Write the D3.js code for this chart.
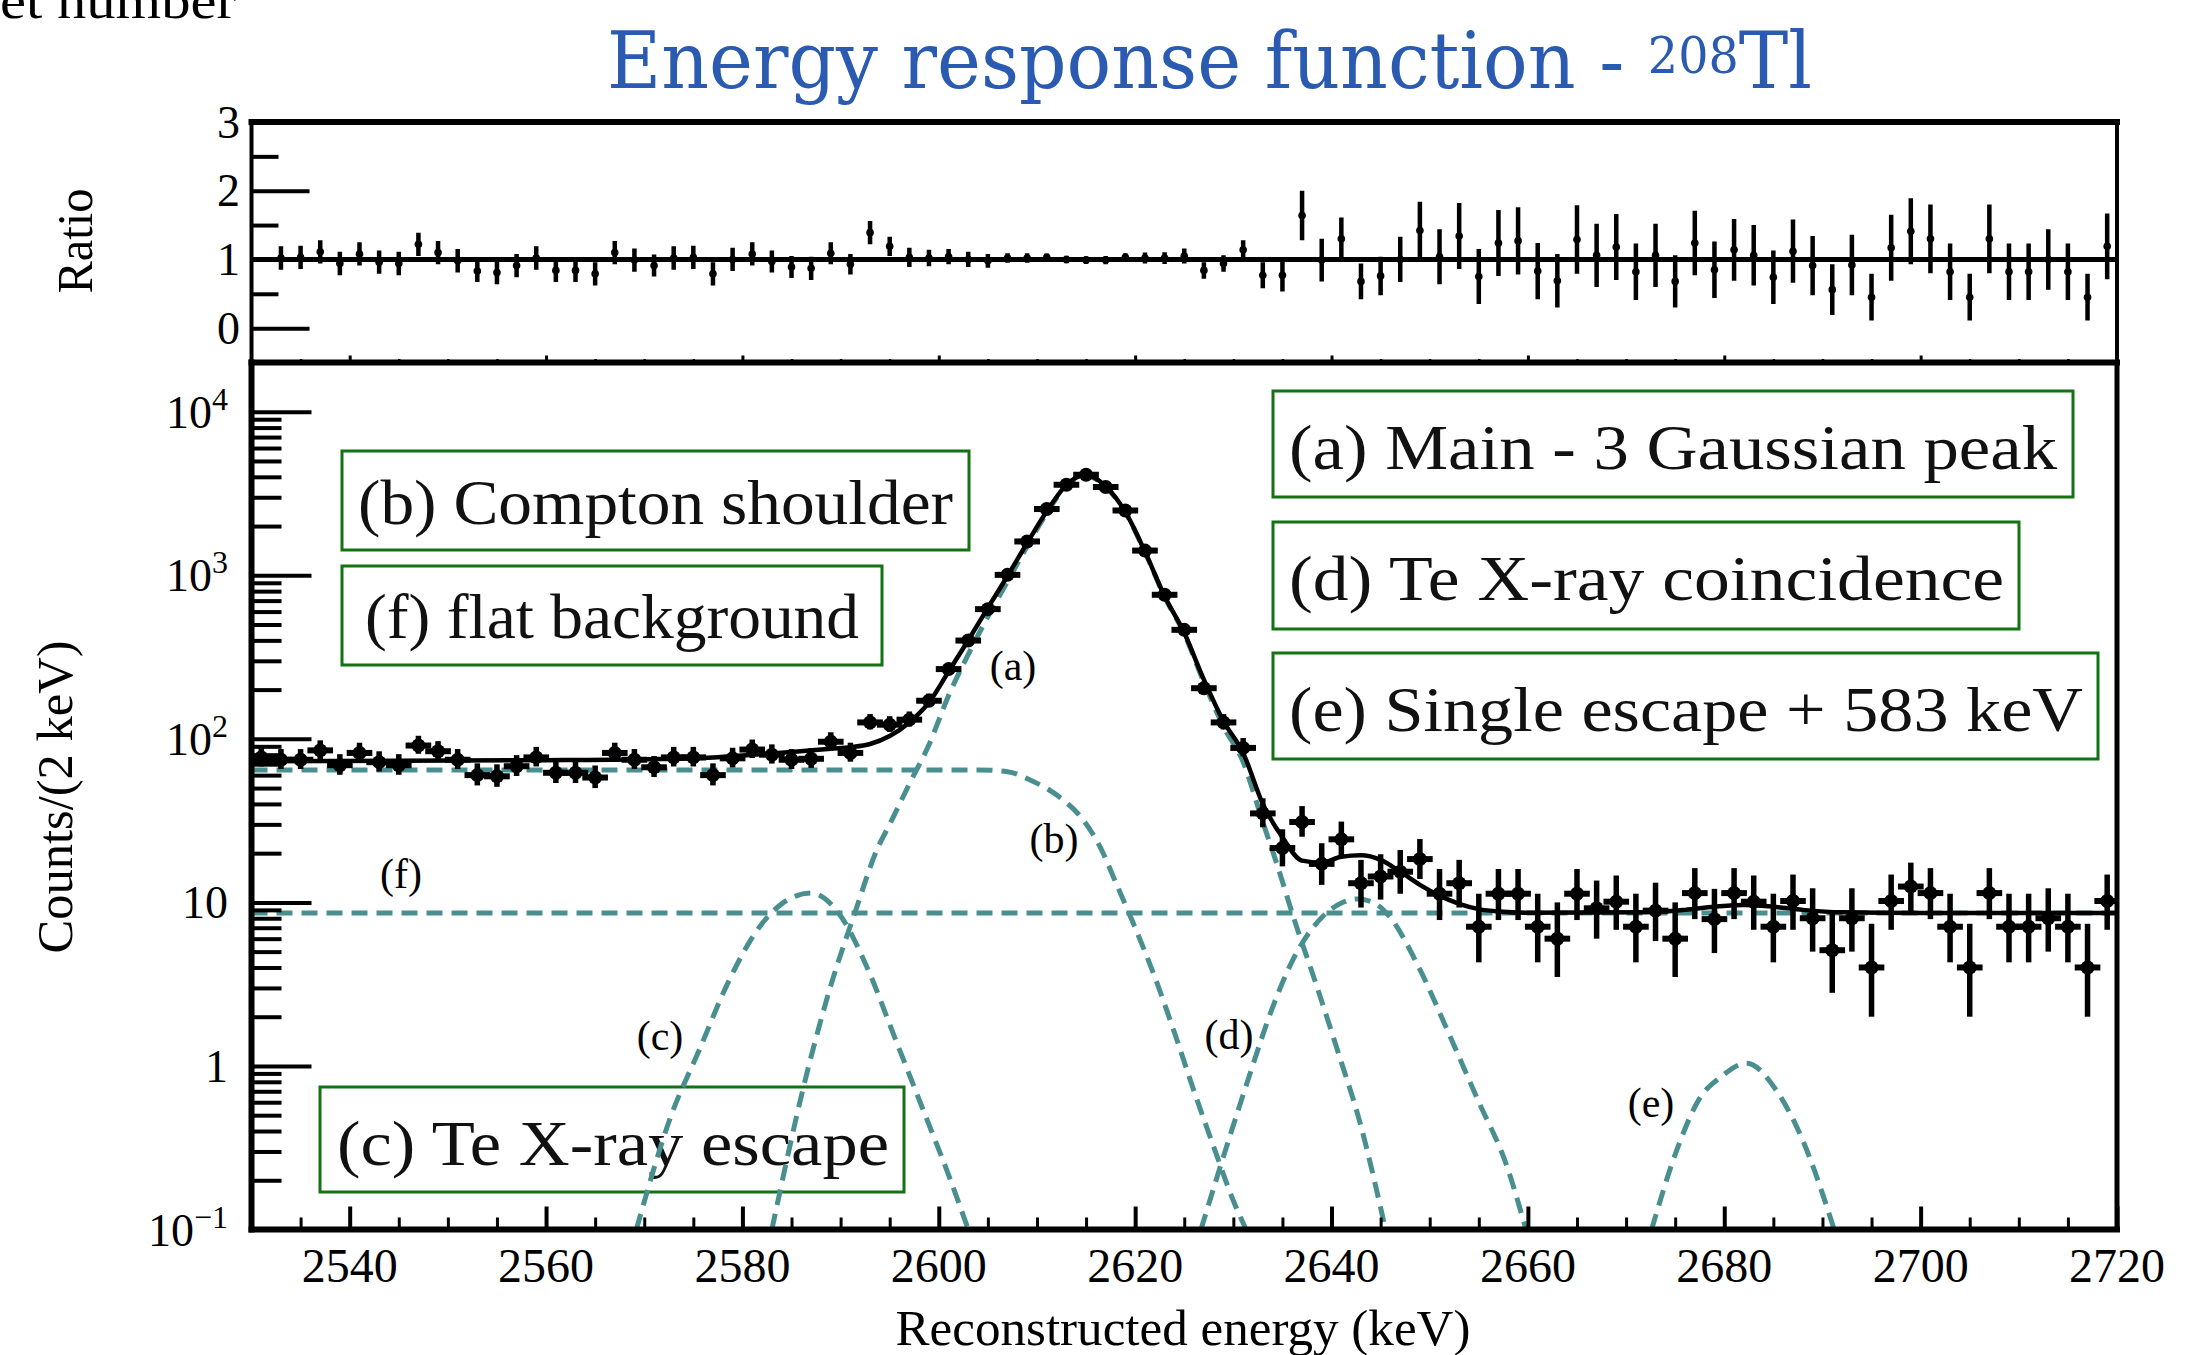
<!DOCTYPE html>
<html>
<head>
<meta charset="utf-8">
<script src="https://cdn.jsdelivr.net/npm/d3@7"></script>
<style>
  body { margin: 0; background: #fff; }
</style>
</head>
<body>
<div id="chart"></div>
<script>
// ---- values ----
// bin centres, 2 keV bins from 2530 to 2720
var binCentres = d3.range(2531, 2720, 2);

var counts = [77,74.5,74.5,85,69,82,72,69,91,84,74.5,60,59,68,77,62,62,58,82,74.5,
  67,77,77,60,76,86,80,74.5,75.5,96,82,126,
  122,131,171,267,399,621,1006,1610,2541,3575,4118,3467,2490,1416,760,464,204,126,88,35,
  21.5,31,17.2,24.3,13.1,14.4,15.4,18.4,11.3,13.1,7.1,11.3,11.3,7.1,6.0,11.3,9.2,10.1,7.1,8.9,
  6.0,11.4,7.9,11.4,10.1,7.1,10.2,8.0,5.1,8.0,4.0,10.2,12.5,11.4,7.1,4.0,11.4,7.1,7.1,8.0,
  7.1,4.0,10.2];

var countErrUp = [12.3,12.1,12.1,12.9,11.6,12.7,11.9,11.6,13.4,12.8,12.1,10.8,10.8,11.5,12.3,11.0,11.0,10.7,12.7,12.1,
  11.5,12.3,12.3,10.8,12.2,13.0,12.5,12.1,12.2,13.7,12.7,15.7,
  15.5,16,18.3,22.9,28,35,44,56,71,84,90,82,70,53,39,30,20,15.7,13.1,8.3,
  6.5,7.8,5.8,6.9,5.1,5.3,5.5,6.0,4.7,5.1,4.2,4.7,4.7,4.2,4.0,4.7,4.4,4.5,4.2,4.3,
  4.0,4.8,4.2,4.8,4.5,4.2,4.6,4.2,3.6,4.2,3.4,4.6,5.0,4.8,4.2,3.4,4.8,4.2,4.2,4.2,
  4.2,3.4,4.6];

var countErrDown = [9.2,9.1,9.1,9.7,8.7,9.5,8.9,8.7,10.0,9.6,9.1,8.1,8.1,8.7,9.2,8.3,8.3,8.0,9.5,9.1,
  8.6,9.2,9.2,8.1,9.2,9.7,9.4,9.1,9.1,10.3,9.5,11.8,
  11.6,12,13.7,17.2,21,26,33,42,53,63,67,62,52,40,29,23,15,11.8,9.9,6.2,
  4.9,5.8,4.4,5.2,3.8,4.0,4.1,4.5,3.5,3.8,2.8,3.5,3.5,2.8,2.5,3.5,3.2,3.3,2.8,3.1,
  2.5,3.5,3.0,3.5,3.3,2.8,3.4,3.0,2.3,3.0,2.0,3.4,3.7,3.5,2.8,2.0,3.5,2.8,2.8,3.0,
  2.8,2.0,3.4];

var ratio = [null,1.02,1.03,1.11,0.94,1.08,0.96,0.94,1.22,1.10,
  0.98,0.83,0.81,0.91,1.02,0.84,0.84,0.79,1.10,0.99,
  0.91,1.02,1.03,0.79,1.00,1.08,0.97,0.89,0.87,1.09,
  0.93,1.39,1.19,1.03,1.02,1.04,1.00,0.98,1.02,1.02,
  1.03,1.00,0.99,0.99,1.03,1.02,1.02,1.05,0.84,0.94,
  1.14,0.77,0.77,1.64,0.99,1.30,0.68,0.76,1.00,1.42,
  1.04,1.34,0.75,1.24,1.27,0.83,0.69,1.29,1.06,1.18,
  0.82,1.06,0.68,1.24,0.85,1.14,1.06,0.74,1.12,0.91,
  0.56,0.92,0.45,1.17,1.41,1.30,0.82,0.45,1.30,0.82,
  0.82,1.00,0.82,0.45,1.19];

var ratioErr = [null,.17,.17,.17,.17,.17,.17,.17,.17,.17,
  .17,.16,.17,.17,.17,.17,.17,.17,.17,.17,
  .16,.17,.17,.17,.17,.17,.16,.16,.17,.16,
  .15,.17,.14,.14,.12,.11,.11,.10,.07,.07,
  .055,.055,.055,.06,.06,.08,.085,.11,.12,.12,
  .14,.19,.235,.36,.31,.31,.26,.28,.33,.42,
  .40,.48,.40,.48,.49,.41,.39,.50,.46,.48,
  .41,.46,.38,.47,.41,.45,.44,.39,.46,.43,
  .37,.44,.34,.48,.48,.50,.41,.34,.50,.41,
  .41,.44,.41,.34,.48];

// model curves: [energy (keV), counts/(2 keV)]
var fitCurve = [[2530,73],[2545,73.5],[2560,74],[2570,75],[2577,77],[2581,80],[2585,83],[2589,87],
  [2591,89],[2593,93],[2595,104],[2597,126],[2599,167],[2601,258],[2603,401],[2605,632],[2607,990],
  [2609,1575],[2611,2460],[2613,3575],[2615,4100],[2617,3500],[2619,2440],[2621,1395],[2623,745],
  [2625,445],[2627,230],[2629,128],[2631,82],[2633,40],[2635,25],[2637,18],[2639,17.5],[2641,19],
  [2643,19.4],[2645,18.2],[2647,15.4],[2649,12.8],[2651,11],[2653,9.8],[2655,9.1],[2657,8.8],
  [2660,8.65],[2672,8.7],[2676,9.0],[2679,9.4],[2682,9.65],[2685,9.4],[2688,9.0],[2692,8.7],
  [2700,8.6],[2720,8.6]];

var compA = [[2583,0.1],[2586.5,0.87],[2589,3.1],[2591.5,8.8],[2593.7,21],[2595,30],[2597,53],[2599,92],
  [2601,184],[2603,328],[2605,559],[2607,917],[2609,1505],[2611,2400],[2613,3520],[2615,4050],
  [2617,3470],[2619,2420],[2621,1385],[2623,738],[2625,438],[2627,221],[2629,119],[2631,72],
  [2633,31],[2634.6,16],[2636.1,8.2],[2638.4,3.2],[2640.6,1.25],[2642.9,0.45],[2645.5,0.1]];
var compB = [[2530,64.6],[2604,64.6],[2607,63],[2609.3,56],[2612.3,44],[2614.7,32],[2616.4,22],
  [2618.2,12.5],[2620,7],[2622,3.5],[2624,1.6],[2626,0.7],[2628,0.32],[2630,0.15],[2631.3,0.1]];
var compC = [[2569.2,0.1],[2572.7,0.49],[2575.6,1.25],[2578.5,3.2],[2581.3,6.5],[2584.1,9.9],[2587,11.4],
  [2589.8,8.6],[2592.7,4.0],[2595.5,1.5],[2598.4,0.54],[2601.2,0.2],[2603,0.1]];
var compD = [[2626.7,0.1],[2629.3,0.32],[2631.6,0.86],[2633.9,2.2],[2636.1,4.5],[2639.1,8.2],[2641,9.9],
  [2642.7,10.5],[2644.5,9.8],[2645.9,8.2],[2648.9,4.0],[2651.9,1.6],[2654.9,0.62],[2657.9,0.24],[2659.8,0.1]];
var compE = [[2672.6,0.1],[2675.2,0.31],[2677.4,0.62],[2679.7,0.86],[2682.3,1.04],[2685.3,0.71],[2688,0.35],[2691.2,0.1]];
var compF = [[2530,8.6],[2720,8.6]];

var xMajor = [2540,2560,2580,2600,2620,2640,2660,2680,2700,2720];
var yMajor = [0.1,1,10,100,1000,10000];
var yMajorLabels = [["10","\u22121"],["1",""],["10",""],["10","2"],["10","3"],["10","4"]];
var ratioMajor = [0,1,2,3];
var ratioMinor = [0.5,1.5,2.5];

var legendTexts = ["(a) Main - 3 Gaussian peak","(b) Compton shoulder","(c) Te X-ray escape",
  "(d) Te X-ray coincidence","(e) Single escape + 583 keV","(f) flat background"];
var curveLabels = ["(a)","(b)","(c)","(d)","(e)","(f)"];

// ---- layout ----
var W = 2203, H = 1355;
var L = 251.5, R = 2117;
var rTop = 122, rBot = 362.5, mTop = 362.5, mBot = 1229.5;
var dashCol = "#4a8f8f", boxCol = "#137313", titleCol = "#2a5bb0";

var boxLayout = [
  {x0:1273, x1:2073, y0:391, y1:497, tx:1289, ty:469, tw:768},
  {x0:342, x1:969, y0:451, y1:550, tx:358, ty:524, tw:595},
  {x0:320, x1:904, y0:1087, y1:1192, tx:337, ty:1165, tw:552},
  {x0:1273, x1:2019, y0:522, y1:629, tx:1289, ty:600, tw:715},
  {x0:1273, x1:2098, y0:653, y1:759, tx:1289, ty:731, tw:794},
  {x0:342, x1:882, y0:566, y1:665, tx:365, ty:638, tw:494}
];
var labelPos = [[1013,680],[1054,853],[660,1050],[1229,1049],[1651,1117],[401,888]];

var svg = d3.select("#chart").append("svg")
  .attr("width", W).attr("height", H)
  .style("font-family", "'Liberation Serif','Times New Roman',serif");

var x = d3.scaleLinear().domain([2530,2720]).range([L,R]);
var yR = d3.scaleLinear().domain([-0.5,3]).range([rBot,rTop]);
var y = d3.scaleLog().domain([0.1,2e4]).range([mBot,mTop]);

var defs = svg.append("defs");
defs.append("clipPath").attr("id","clipMain").append("rect")
  .attr("x",L).attr("y",mTop).attr("width",R-L).attr("height",mBot-mTop);
defs.append("clipPath").attr("id","clipRatio").append("rect")
  .attr("x",L).attr("y",rTop).attr("width",R-L).attr("height",rBot-rTop);

// ---- title and stray header (cut at the top edge in the original) ----
svg.append("text")
  .attr("x",0).attr("y",18)
  .attr("font-size",50)
  .attr("textLength",236).attr("lengthAdjust","spacingAndGlyphs")
  .text("et number");

var title = svg.append("text")
  .attr("x",607).attr("y",88)
  .attr("fill",titleCol)
  .style("font-family","'DejaVu Serif',serif")
  .attr("font-size",78)
  .attr("textLength",1205).attr("lengthAdjust","spacingAndGlyphs");
title.append("tspan").text("Energy response function - ");
title.append("tspan").attr("dy",-15).attr("font-size",50).text("208");
title.append("tspan").attr("dy",15).text("Tl");

// ---- points ----
var pts = binCentres.map(function(e,i){
  return {e:e, n:counts[i], up:countErrUp[i], dn:countErrDown[i], r:ratio[i], re:ratioErr[i]};
});

// ---- ratio panel ----
var gR = svg.append("g").attr("clip-path","url(#clipRatio)");
gR.append("line")
  .attr("x1",L).attr("x2",R)
  .attr("y1",yR(1)).attr("y2",yR(1))
  .attr("stroke","#000").attr("stroke-width",5);
var rp = pts.filter(function(d){ return d.r != null; });
gR.selectAll("line.rv").data(rp).join("line")
  .attr("class","rv")
  .attr("x1",function(d){ return x(d.e); }).attr("x2",function(d){ return x(d.e); })
  .attr("y1",function(d){ return yR(d.r - d.re); })
  .attr("y2",function(d){ return yR(d.r + d.re); })
  .attr("stroke","#000").attr("stroke-width",4.5);
gR.selectAll("circle").data(rp).join("circle")
  .attr("cx",function(d){ return x(d.e); })
  .attr("cy",function(d){ return yR(d.r); })
  .attr("r",3.8).attr("fill","#000");

// ---- main panel: legend boxes ----
boxLayout.forEach(function(b,i){
  svg.append("rect")
    .attr("x",b.x0).attr("y",b.y0)
    .attr("width",b.x1-b.x0).attr("height",b.y1-b.y0)
    .attr("fill","none").attr("stroke",boxCol).attr("stroke-width",3);
  svg.append("text")
    .attr("x",b.tx).attr("y",b.ty)
    .attr("font-size",64)
    .attr("fill","#111")
    .attr("textLength",b.tw).attr("lengthAdjust","spacingAndGlyphs")
    .text(legendTexts[i]);
});

curveLabels.forEach(function(t,i){
  svg.append("text")
    .attr("x",labelPos[i][0]).attr("y",labelPos[i][1])
    .attr("text-anchor","middle")
    .attr("font-size",42)
    .text(t);
});

// ---- main panel: curves and data ----
var gM = svg.append("g").attr("clip-path","url(#clipMain)");
var line = d3.line()
  .x(function(d){ return x(d[0]); })
  .y(function(d){ return y(d[1]); })
  .curve(d3.curveMonotoneX);

[compF, compB, compC, compA, compD, compE].forEach(function(c){
  gM.append("path")
    .attr("d", line(c))
    .attr("fill","none")
    .attr("stroke",dashCol)
    .attr("stroke-width",5)
    .attr("stroke-dasharray","16,9");
});

gM.append("path")
  .attr("d", line(fitCurve))
  .attr("fill","none")
  .attr("stroke","#000")
  .attr("stroke-width",4.5);

gM.selectAll("line.h").data(pts).join("line")
  .attr("class","h")
  .attr("x1",function(d){ return x(d.e-1); }).attr("x2",function(d){ return x(d.e+1); })
  .attr("y1",function(d){ return y(d.n); }).attr("y2",function(d){ return y(d.n); })
  .attr("stroke","#000").attr("stroke-width",6).attr("stroke-linecap","square");
gM.selectAll("line.v").data(pts).join("line")
  .attr("class","v")
  .attr("x1",function(d){ return x(d.e); }).attr("x2",function(d){ return x(d.e); })
  .attr("y1",function(d){ return y(d.n - d.dn); })
  .attr("y2",function(d){ return y(d.n + d.up); })
  .attr("stroke","#000").attr("stroke-width",5.5);
gM.selectAll("circle").data(pts).join("circle")
  .attr("cx",function(d){ return x(d.e); })
  .attr("cy",function(d){ return y(d.n); })
  .attr("r",7).attr("fill","#000");

// ---- axes ----
function styleTicks(g, w){
  g.select(".domain").remove();
  g.selectAll("line").attr("stroke","#000").attr("stroke-width",w);
}
var xMinor = d3.range(2535,2720,5).filter(function(v){ return v % 20 !== 0; });
var yMinor = [];
[0.1,1,10,100,1000].forEach(function(dec){
  d3.range(2,10).forEach(function(k){ yMinor.push(dec*k); });
});

// main y
svg.append("g").attr("transform","translate("+L+",0)")
  .call(d3.axisLeft(y).tickValues(yMajor).tickSize(-60).tickFormat(""))
  .call(styleTicks, 4);
svg.append("g").attr("transform","translate("+L+",0)")
  .call(d3.axisLeft(y).tickValues(yMinor).tickSize(-30).tickFormat(""))
  .call(styleTicks, 4);
// main x
svg.append("g").attr("transform","translate(0,"+mBot+")")
  .call(d3.axisBottom(x).tickValues(xMajor).tickSize(-23).tickFormat(""))
  .call(styleTicks, 4);
svg.append("g").attr("transform","translate(0,"+mBot+")")
  .call(d3.axisBottom(x).tickValues(xMinor).tickSize(-12).tickFormat(""))
  .call(styleTicks, 3);
// ratio y
svg.append("g").attr("transform","translate("+L+",0)")
  .call(d3.axisLeft(yR).tickValues(ratioMajor).tickSize(-58).tickFormat(""))
  .call(styleTicks, 4);
svg.append("g").attr("transform","translate("+L+",0)")
  .call(d3.axisLeft(yR).tickValues(ratioMinor).tickSize(-27).tickFormat(""))
  .call(styleTicks, 4);
// ratio x
svg.append("g").attr("transform","translate(0,"+rBot+")")
  .call(d3.axisBottom(x).tickValues(xMajor).tickSize(-7).tickFormat(""))
  .call(styleTicks, 3);
svg.append("g").attr("transform","translate(0,"+rBot+")")
  .call(d3.axisBottom(x).tickValues(xMinor).tickSize(-3.5).tickFormat(""))
  .call(styleTicks, 2.5);

// frame
var frame = [
  [L,rTop,R,rTop,6],[L,rTop,L,rBot,4],[R,rTop,R,rBot,4],
  [L,mTop,R,mTop,6],[L,mTop,L,mBot,6],[R,mTop,R,mBot,5],[L,mBot,R,mBot,6]
];
frame.forEach(function(f){
  svg.append("line")
    .attr("x1",f[0]).attr("y1",f[1]).attr("x2",f[2]).attr("y2",f[3])
    .attr("stroke","#000").attr("stroke-width",f[4]).attr("stroke-linecap","square");
});

// tick labels
yMajor.forEach(function(v,i){
  var t = svg.append("text")
    .attr("x",228).attr("y",y(v)+16)
    .attr("text-anchor","end")
    .attr("font-size",46);
  t.append("tspan").text(yMajorLabels[i][0]);
  if (yMajorLabels[i][1]) {
    t.append("tspan").attr("dy",-18).attr("font-size",32).text(yMajorLabels[i][1]);
  }
});
ratioMajor.forEach(function(v){
  svg.append("text")
    .attr("x",240).attr("y",yR(v)+15.5)
    .attr("text-anchor","end")
    .attr("font-size",46)
    .text(v);
});
xMajor.forEach(function(v){
  svg.append("text")
    .attr("x",x(v)).attr("y",1282)
    .attr("text-anchor","middle")
    .attr("font-size",48)
    .text(v);
});

// axis titles
svg.append("text")
  .attr("x",1183).attr("y",1345)
  .attr("text-anchor","middle")
  .attr("font-size",50)
  .attr("textLength",575).attr("lengthAdjust","spacingAndGlyphs")
  .text("Reconstructed energy (keV)");
svg.append("text")
  .attr("transform","translate(72,797) rotate(-90)")
  .attr("text-anchor","middle")
  .attr("font-size",50)
  .attr("textLength",313).attr("lengthAdjust","spacingAndGlyphs")
  .text("Counts/(2 keV)");
svg.append("text")
  .attr("transform","translate(92,241) rotate(-90)")
  .attr("text-anchor","middle")
  .attr("font-size",50)
  .attr("textLength",105).attr("lengthAdjust","spacingAndGlyphs")
  .text("Ratio");
</script>
</body>
</html>
